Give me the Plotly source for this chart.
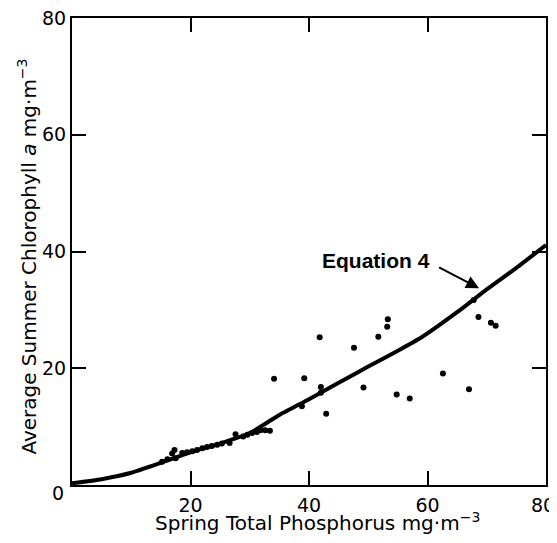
import plotly.graph_objects as go

# Scatter observations (spring TP vs summer chlorophyll a)
obs_tp = [15.2, 16.1, 16.9, 17.3, 17.5, 18.6, 19.4, 20.3, 21.1, 22.0, 22.8, 23.6, 24.5, 25.3,
          26.6, 27.6, 28.9, 29.6, 30.4, 31.2, 31.8, 32.6, 33.4, 34.1, 38.8, 39.2, 41.8, 42.0,
          42.0, 42.9, 47.6, 49.2, 51.7, 53.2, 53.3, 54.8, 57.0, 62.6, 67.0, 67.8, 68.6, 70.7, 71.5]
obs_chl = [4.0, 4.4, 5.4, 6.0, 4.6, 5.5, 5.6, 5.8, 6.0, 6.3, 6.5, 6.7, 6.9, 7.1,
           7.2, 8.7, 8.3, 8.6, 8.9, 9.1, 9.4, 9.4, 9.3, 18.2, 13.5, 18.3, 25.3, 16.8,
           15.8, 12.2, 23.5, 16.7, 25.4, 27.1, 28.4, 15.5, 14.8, 19.1, 16.4, 31.7, 28.8, 27.8, 27.3]

# Equation 4 curve
eq_tp = [0, 5, 10, 15, 20, 25, 30, 35, 40, 45, 50, 55, 59, 65, 70, 75, 80]
eq_chl = [0.3, 1.0, 2.1, 3.8, 5.6, 7.1, 8.9, 12.0, 14.7, 17.5, 20.3, 23.0, 25.3, 29.6, 33.5, 37.2, 41.1]

x_ticks = [20, 40, 60, 80]
x_tick_labels = ["20", "40", "60", ""]   # the "80" is drawn as a corner label
x_end_label = "80"
y_ticks = [20, 40, 60, 80]
y_tick_labels = ["20", "40", "60", "80"]
origin_label = "0"

FONT = "DejaVu Sans, Verdana, sans-serif"

fig = go.Figure()
fig.add_trace(go.Scatter(x=eq_tp, y=eq_chl, mode="lines",
                         line=dict(color="black", width=4, shape="spline", smoothing=0.5),
                         hoverinfo="skip"))
fig.add_trace(go.Scatter(x=obs_tp, y=obs_chl, mode="markers",
                         marker=dict(color="black", size=6)))

# page body has an 8px margin, so the figure is sized to fit the 557x543 window
fig.update_layout(
    width=549, height=535,
    margin=dict(l=64, r=11, t=10, b=58, autoexpand=False),
    paper_bgcolor="white", plot_bgcolor="white",
    showlegend=False,
    font=dict(family=FONT, color="black", size=19),
)
fig.update_xaxes(range=[0, 80], tickvals=x_ticks, ticktext=x_tick_labels,
                 ticks="inside", ticklen=14, tickwidth=1.5, tickcolor="black",
                 showline=True, linecolor="black", linewidth=2, mirror="ticks",
                 showgrid=False, zeroline=False, ticklabelstandoff=2,
                 automargin=False,
                 tickfont=dict(family=FONT, size=19, color="black"))
fig.update_yaxes(range=[0, 80], tickvals=y_ticks, ticktext=y_tick_labels,
                 ticks="inside", ticklen=14, tickwidth=1.5, tickcolor="black",
                 showline=True, linecolor="black", linewidth=2, mirror="ticks",
                 showgrid=False, zeroline=False, ticklabelstandoff=0,
                 ticklabeloverflow="allow", automargin=False,
                 tickfont=dict(family=FONT, size=19, color="black"))

# Corner labels
fig.add_annotation(text=origin_label, xref="paper", yref="paper", x=-0.03, y=-0.017,
                   xanchor="center", yanchor="middle", showarrow=False,
                   font=dict(family=FONT, size=19, color="black"))
fig.add_annotation(text=x_end_label, xref="paper", yref="paper", x=0.994, y=-0.043,
                   xanchor="center", yanchor="middle", showarrow=False,
                   font=dict(family=FONT, size=19, color="black"))
# Axis titles
fig.add_annotation(text="Spring Total Phosphorus mg·m<sup>−3</sup>", xref="paper", yref="paper",
                   x=0.517, y=-0.079, xanchor="center", yanchor="middle", showarrow=False,
                   font=dict(family=FONT, size=20, color="black"))
fig.add_annotation(text="Average Summer Chlorophyll <i>a</i> mg·m<sup>−3</sup>", xref="paper", yref="paper",
                   x=-0.094, y=0.49, xanchor="center", yanchor="middle", textangle=-90,
                   showarrow=False, font=dict(family=FONT, size=20, color="black"))
# Equation label and arrow
fig.add_annotation(text="<b>Equation 4</b>", x=51.3, y=38.4, xref="x", yref="y",
                   showarrow=False, xanchor="center", yanchor="middle",
                   font=dict(family="Liberation Sans, Arial, sans-serif", size=21, color="black"))
fig.add_annotation(text="", x=68.7, y=33.7, ax=61.7, ay=37.4, xref="x", yref="y",
                   axref="x", ayref="y", showarrow=True, arrowhead=2, arrowsize=1.3,
                   arrowwidth=2, arrowcolor="black", standoff=0, startstandoff=0)

fig.write_html("out.html")
